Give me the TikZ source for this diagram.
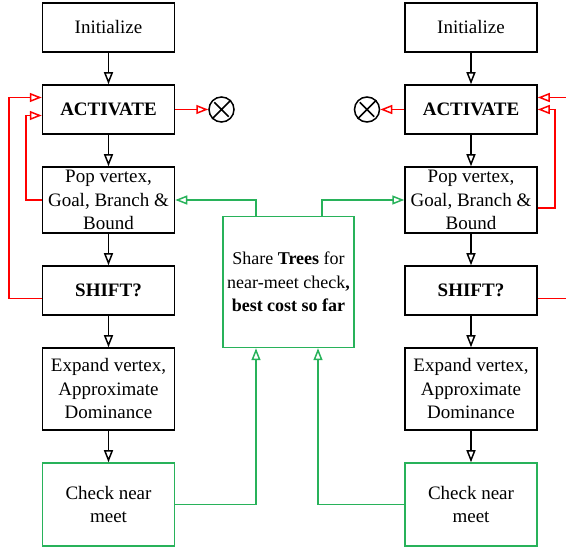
\documentclass[tikz,border=0pt]{standalone}
\usepackage{fontspec}
\setmainfont{Liberation Serif}
\usetikzlibrary{arrows.meta,positioning}
\definecolor{meetgreen}{RGB}{40,178,90}
\definecolor{loopred}{RGB}{255,0,0}

\begin{document}
\begin{tikzpicture}[x=1pt,y=1pt,>={Triangle[open,length=12pt,width=9pt]},node distance=31.5pt,line width=1.5pt]
  \tikzstyle{every node}=[font=\fontsize{19}{23.5}\selectfont]
  \tikzstyle{box}=[draw,rectangle,minimum width=132pt,minimum height=49pt,align=center,inner sep=0pt,fill=white]
  \tikzstyle{greenbox}=[box,draw=meetgreen]
  \tikzstyle{stop}=[draw,circle,minimum size=25pt,inner sep=0pt]
  \useasboundingbox (0,0) rectangle (566,-548);

  % left search
  \node[box]                          (IL) at (108.5,-27.5) {Initialize};
  \node[box, below=of IL]             (AL) {\textbf{ACTIVATE}};
  \node[box, below=of AL, minimum height=66pt] (PL) {Pop vertex,\\Goal, Branch \&\\Bound};
  \node[box, below=of PL]             (SL) {\textbf{SHIFT?}};
  \node[box, below=of SL, minimum height=82pt] (EL) {Expand vertex,\\Approximate\\Dominance};
  \node[greenbox, below=of EL, minimum height=83pt] (CL) {Check near\\meet};
  \node[stop, right=33pt of AL]       (XL) {};

  % right search
  \node[box, right=229pt of IL]       (IR) {Initialize};
  \node[box, below=of IR]             (AR) {\textbf{ACTIVATE}};
  \node[box, below=of AR, minimum height=66pt] (PR) {Pop vertex,\\Goal, Branch \&\\Bound};
  \node[box, below=of PR]             (SR) {\textbf{SHIFT?}};
  \node[box, below=of SR, minimum height=82pt] (ER) {Expand vertex,\\Approximate\\Dominance};
  \node[greenbox, below=of ER, minimum height=83pt] (CR) {Check near\\meet};
  \node[stop, left=24pt of AR]        (XR) {};

  % shared box
  \node[greenbox, minimum width=131pt, minimum height=131pt, font=\fontsize{18}{23.5}\selectfont]
    (share) at (288.5,-282) {Share \textbf{Trees} for\\near-meet check\textbf{,}\\\textbf{best cost so far}};

  \path ([yshift=12pt]AR.east) ++(31,0) coordinate (edgeA);
  \path ([yshift=-8pt]SR.east) ++(31,0) coordinate (edgeS);

  % main flow
  \foreach \a/\b in {IL/AL,AL/PL,PL/SL,SL/EL,EL/CL,IR/AR,AR/PR,PR/SR,SR/ER,ER/CR}
    \draw[->] (\a) -- (\b);

  % stop marks
  \draw[shorten >=3pt,shorten <=3pt] (XL.45) -- (XL.225) (XL.135) -- (XL.315);
  \draw[shorten >=3pt,shorten <=3pt] (XR.45) -- (XR.225) (XR.135) -- (XR.315);

  % red loops
  \draw[loopred,->] (AL) -- (XL);
  \draw[loopred,->] (AR) -- (XR);
  \draw[loopred,->] ([yshift=-8pt]SL.west) -- ++(-33,0) |- ([yshift=12pt]AL.west);
  \draw[loopred,->] (PL.west) -- ++(-16,0) |- ([yshift=-6pt]AL.west);
  \draw[loopred,->] ([yshift=-8pt]PR.east) -- ++(17,0) |- (AR.east);
  \draw[loopred,->] (edgeA) -- ([yshift=12pt]AR.east);
  \draw[loopred] ([yshift=-8pt]SR.east) -- (edgeS);

  % sharing
  \draw[meetgreen,->] ([xshift=-32.5pt]share.north) |- (PL.east);
  \draw[meetgreen,->] ([xshift=33.5pt]share.north) |- (PR.west);
  \draw[meetgreen,->] (CL.east) -| ([xshift=-32.5pt]share.south);
  \draw[meetgreen,->] (CR.west) -| ([xshift=29.5pt]share.south);
\end{tikzpicture}
\end{document}
